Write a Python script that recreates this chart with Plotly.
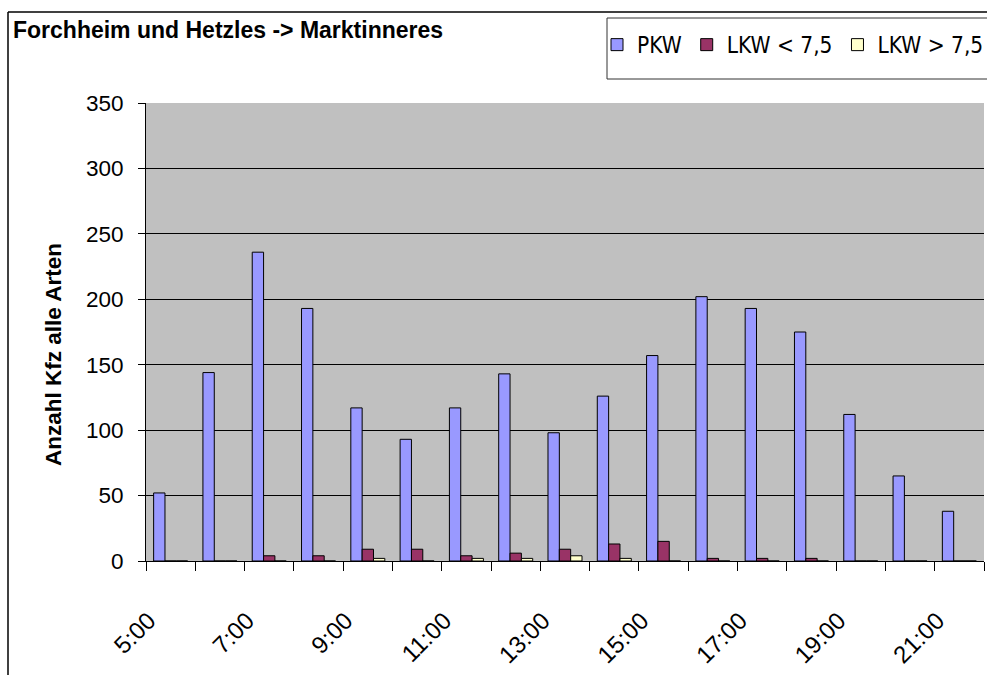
import plotly.graph_objects as go

# Hourly traffic counts, Forchheim/Hetzles -> Marktinneres
hours = ["5:00", "6:00", "7:00", "8:00", "9:00", "10:00", "11:00", "12:00", "13:00",
         "14:00", "15:00", "16:00", "17:00", "18:00", "19:00", "20:00", "21:00"]
pkw = [52, 144, 236, 193, 117, 93, 117, 143, 98, 126, 157, 202, 193, 175, 112, 65, 38]
lkw_small = [0, 0, 4, 4, 9, 9, 4, 6, 9, 13, 15, 2, 2, 2, 0, 0, 0]
lkw_large = [0, 0, 0, 0, 2, 0, 2, 2, 4, 2, 0, 0, 0, 0, 0, 0, 0]
series_names = ["PKW", "LKW < 7,5", "LKW > 7,5"]
series_colors = ["#9999FF", "#993366", "#FFFFCC"]

# only every second hour gets a label
tick_text = [h if i % 2 == 0 else "" for i, h in enumerate(hours)]
y_ticks = [0, 50, 100, 150, 200, 250, 300, 350]

W, H = 987, 675
ML, MR, MT, MB = 146, 3, 103, 114
PW, PH = W - ML - MR, H - MT - MB


def px(x):
    return (x - ML) / PW


def py(y):
    return (H - MB - y) / PH


SANS = "Liberation Sans, Arial, sans-serif"
COND = "DejaVu Sans Condensed, Liberation Sans, sans-serif"

fig = go.Figure()
for name, vals, col in zip(series_names, [pkw, lkw_small, lkw_large], series_colors):
    fig.add_trace(go.Bar(
        x=hours, y=vals, name=name,
        marker=dict(color=col, line=dict(color="black", width=1)),
    ))

fig.update_layout(
    width=W, height=H,
    margin=dict(l=ML, r=MR, t=MT, b=MB, pad=0, autoexpand=False),
    paper_bgcolor="white",
    plot_bgcolor="#C0C0C0",
    barmode="group",
    bargap=0.31,
    bargroupgap=0,
    showlegend=True,
    legend=dict(
        orientation="h",
        x=px(597), xanchor="left",
        y=py(45), yanchor="middle",
        bgcolor="rgba(0,0,0,0)",
        borderwidth=0,
        font=dict(family=COND, size=22.5, color="black"),
        itemclick=False,
    ),
    xaxis=dict(
        type="category",
        automargin=False,
        tickmode="array",
        tickvals=hours,
        ticktext=tick_text,
        tickson="boundaries",
        ticks="outside",
        ticklen=9,
        tickcolor="black",
        tickwidth=1,
        tickangle=-45,
        ticklabelshift=-22,
        ticklabelstandoff=35,
        tickfont=dict(family=SANS, size=24, color="black"),
        showline=True,
        linecolor="black",
        linewidth=1,
        showgrid=False,
        zeroline=False,
    ),
    yaxis=dict(
        range=[0, 350],
        automargin=False,
        tickmode="array",
        tickvals=y_ticks,
        ticks="outside",
        ticklen=7,
        tickcolor="black",
        tickwidth=1,
        ticklabelstandoff=10,
        tickfont=dict(family=SANS, size=22.5, color="black"),
        showline=True,
        linecolor="black",
        linewidth=1,
        showgrid=True,
        gridcolor="black",
        gridwidth=1,
        zeroline=False,
    ),
    shapes=[
        # outer chart frame (top and left edges)
        dict(type="line", xref="paper", yref="paper",
             x0=px(8), y0=py(12), x1=px(W + 5), y1=py(12),
             line=dict(color="black", width=1.5)),
        dict(type="line", xref="paper", yref="paper",
             x0=px(8), y0=py(12), x1=px(8), y1=py(H + 5),
             line=dict(color="black", width=1.5)),
        # legend frame
        dict(type="rect", xref="paper", yref="paper",
             x0=px(607), y0=py(18), x1=px(W + 10), y1=py(79),
             line=dict(color="#333333", width=1), fillcolor="rgba(0,0,0,0)"),
    ],
    annotations=[
        dict(text="<b>Forchheim und Hetzles -> Marktinneres</b>",
             xref="paper", yref="paper", x=px(11), y=py(30),
             xanchor="left", yanchor="middle", showarrow=False,
             font=dict(family=SANS, size=23, color="black")),
        dict(text="<b>Anzahl Kfz alle Arten</b>",
             xref="paper", yref="paper", x=px(53), y=py(355),
             xanchor="center", yanchor="middle", showarrow=False, textangle=-90,
             font=dict(family=SANS, size=22.5, color="black")),
    ],
)

fig.write_html("out.html")
